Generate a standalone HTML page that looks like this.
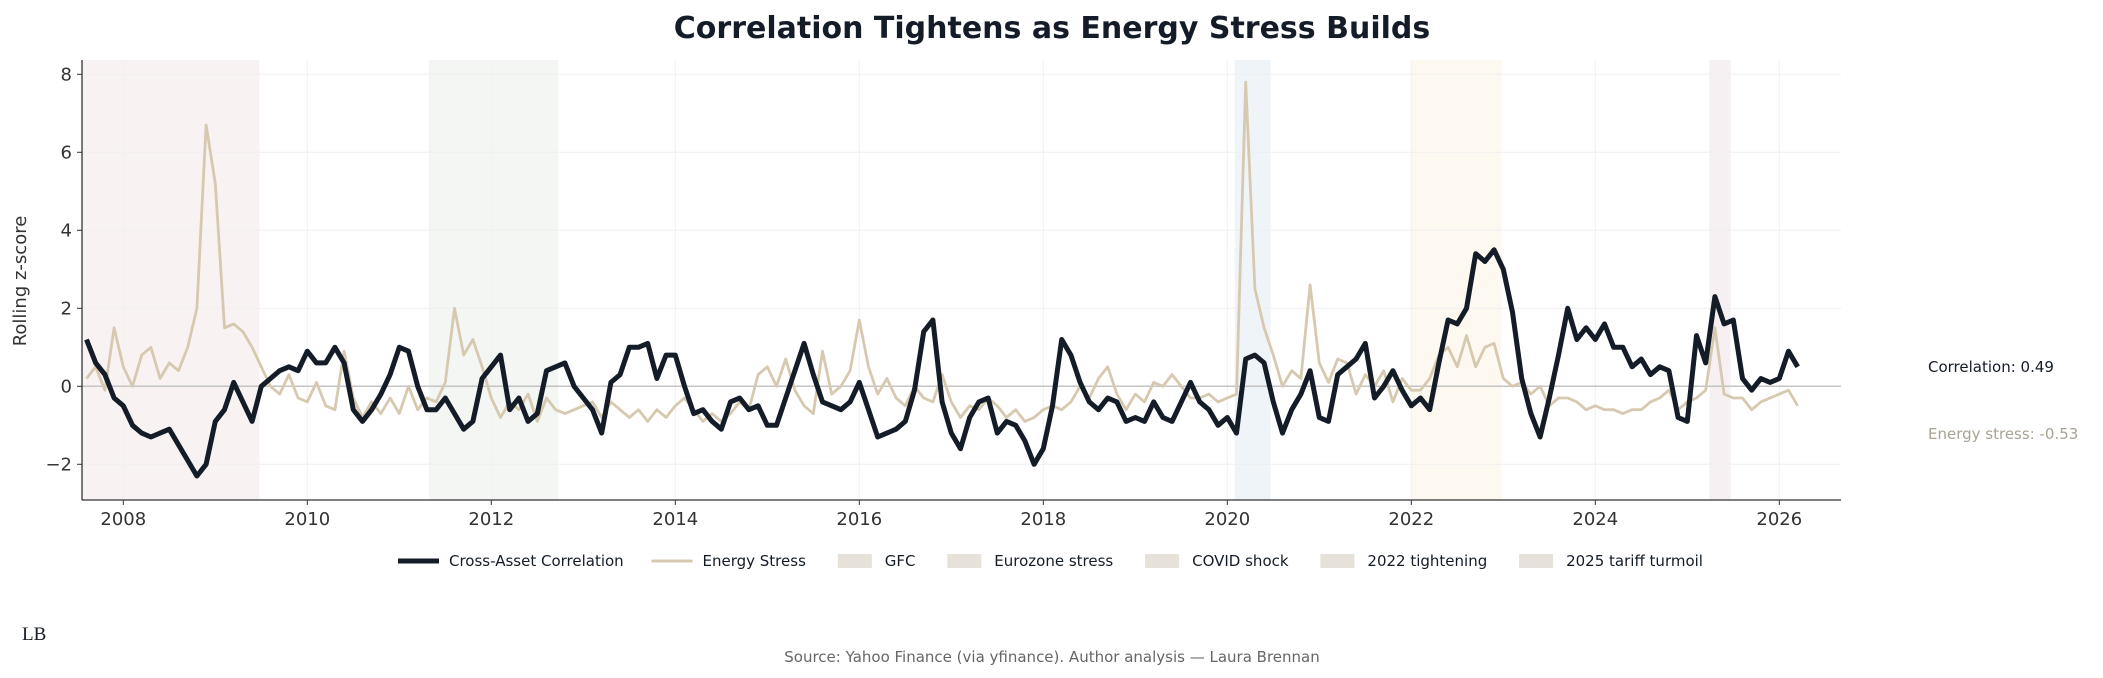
<!DOCTYPE html>
<html><head><meta charset="utf-8"><style>
html,body{margin:0;padding:0;background:#fff;}
svg{display:block;font-family:"DejaVu Sans","Liberation Sans",sans-serif;}
</style></head><body>
<svg id="chart" width="2103" height="678" viewBox="0 0 2103 678">
<text x="1052" y="38" text-anchor="middle" font-size="30" font-weight="bold" fill="#141c28">Correlation Tightens as Energy Stress Builds</text>
<g id="bands"></g><g id="grid"></g><g id="series"></g><g id="axes"></g>
<text transform="translate(26,281) rotate(-90)" text-anchor="middle" font-size="18" fill="#333">Rolling z-score</text>
<text x="1928" y="372" font-size="15" fill="#141c28">Correlation: 0.49</text>
<text x="1928" y="439" font-size="15" fill="#aaa393">Energy stress: -0.53</text>
<g id="legend" font-size="15" fill="#141c28"></g>
<text x="22" y="640" font-family="Liberation Serif,serif" font-size="19" fill="#141c28">LB</text>
<text x="1052" y="662" text-anchor="middle" font-size="15" fill="#666">Source: Yahoo Finance (via yfinance). Author analysis — Laura Brennan</text>
</svg>
<script>
const startYear = 2007.6;
const stepYear = 0.1;
const correlation = [1.2,0.6,0.3,-0.3,-0.5,-1.0,-1.2,-1.3,-1.2,-1.1,-1.5,-1.9,-2.3,-2.0,-0.9,-0.6,0.1,-0.4,-0.9,0.0,0.2,0.4,0.5,0.4,0.9,0.6,0.6,1.0,0.6,-0.6,-0.9,-0.6,-0.2,0.3,1.0,0.9,0.0,-0.6,-0.6,-0.3,-0.7,-1.1,-0.9,0.2,0.5,0.8,-0.6,-0.3,-0.9,-0.7,0.4,0.5,0.6,0.0,-0.3,-0.6,-1.2,0.1,0.3,1.0,1.0,1.1,0.2,0.8,0.8,0.0,-0.7,-0.6,-0.9,-1.1,-0.4,-0.3,-0.6,-0.5,-1.0,-1.0,-0.3,0.4,1.1,0.3,-0.4,-0.5,-0.6,-0.4,0.1,-0.6,-1.3,-1.2,-1.1,-0.9,-0.1,1.4,1.7,-0.4,-1.2,-1.6,-0.8,-0.4,-0.3,-1.2,-0.9,-1.0,-1.4,-2.0,-1.6,-0.5,1.2,0.8,0.1,-0.4,-0.6,-0.3,-0.4,-0.9,-0.8,-0.9,-0.4,-0.8,-0.9,-0.4,0.1,-0.4,-0.6,-1.0,-0.8,-1.2,0.7,0.8,0.6,-0.4,-1.2,-0.6,-0.2,0.4,-0.8,-0.9,0.3,0.5,0.7,1.1,-0.3,0.0,0.4,-0.1,-0.5,-0.3,-0.6,0.6,1.7,1.6,2.0,3.4,3.2,3.5,3.0,1.9,0.2,-0.7,-1.3,-0.3,0.8,2.0,1.2,1.5,1.2,1.6,1.0,1.0,0.5,0.7,0.3,0.5,0.4,-0.8,-0.9,1.3,0.6,2.3,1.6,1.7,0.2,-0.1,0.2,0.1,0.2,0.9,0.5];
const energy = [0.2,0.5,-0.1,1.5,0.5,0.0,0.8,1.0,0.2,0.6,0.4,1.0,2.0,6.7,5.2,1.5,1.6,1.4,1.0,0.5,0.0,-0.2,0.3,-0.3,-0.4,0.1,-0.5,-0.6,0.9,-0.3,-0.8,-0.4,-0.7,-0.3,-0.7,0.0,-0.6,-0.3,-0.4,0.1,2.0,0.8,1.2,0.5,-0.3,-0.8,-0.4,-0.6,-0.2,-0.9,-0.3,-0.6,-0.7,-0.6,-0.5,-0.4,-0.8,-0.4,-0.6,-0.8,-0.6,-0.9,-0.6,-0.8,-0.5,-0.3,-0.6,-0.9,-0.7,-0.9,-0.7,-0.4,-0.6,0.3,0.5,0.0,0.7,-0.1,-0.5,-0.7,0.9,-0.2,0.0,0.4,1.7,0.5,-0.2,0.2,-0.3,-0.5,0.0,-0.3,-0.4,0.3,-0.4,-0.8,-0.5,-0.6,-0.3,-0.5,-0.8,-0.6,-0.9,-0.8,-0.6,-0.5,-0.6,-0.4,0.0,-0.3,0.2,0.5,-0.2,-0.6,-0.2,-0.4,0.1,0.0,0.3,0.0,-0.3,-0.3,-0.2,-0.4,-0.3,-0.2,7.8,2.5,1.5,0.8,0.0,0.4,0.2,2.6,0.6,0.1,0.7,0.6,-0.2,0.3,0.0,0.4,-0.4,0.2,-0.1,-0.1,0.2,0.8,1.0,0.5,1.3,0.5,1.0,1.1,0.2,0.0,0.1,-0.2,0.0,-0.5,-0.3,-0.3,-0.4,-0.6,-0.5,-0.6,-0.6,-0.7,-0.6,-0.6,-0.4,-0.3,-0.1,-0.6,-0.4,-0.3,-0.1,1.5,-0.2,-0.3,-0.3,-0.6,-0.4,-0.3,-0.2,-0.1,-0.5];
const yTicks = [-2,0,2,4,6,8];
const xTicks = [2008,2010,2012,2014,2016,2018,2020,2022,2024,2026];
const bandNames = ["GFC","Eurozone stress","COVID shock","2022 tightening","2025 tariff turmoil"];
const bandStart = [2007.55,2011.32,2020.08,2022.0,2025.24];
const bandEnd = [2009.48,2012.73,2020.47,2022.98,2025.47];
const bandColors = ["#f8f2f2","#f3f6f2","#eff4f9","#fdf9f0","#f6f0f2"];

const L=82,R=1841,T=60,B=500;
const X=y=>123.3+(y-2008)*92.0;
const Y=v=>386.3-v*39.0;
const NS="http://www.w3.org/2000/svg";
function mk(tag,parent,attrs){const e=document.createElementNS(NS,tag);for(const k in attrs)e.setAttribute(k,attrs[k]);parent.appendChild(e);return e;}
const gB=document.getElementById('bands'),gG=document.getElementById('grid'),gS=document.getElementById('series'),gA=document.getElementById('axes'),gL=document.getElementById('legend');
bandNames.forEach((n,i)=>{const r=mk('rect',gB,{x:X(bandStart[i]),y:T,width:X(bandEnd[i])-X(bandStart[i]),height:B-T,fill:bandColors[i]});

});
yTicks.forEach(v=>{const l=mk('line',gG,{x1:L,x2:R,y1:Y(v),y2:Y(v),stroke:'#efefef','stroke-width':1});


const t=mk('text',gA,{x:L-10,y:Y(v)+6,'text-anchor':'end','font-size':18,fill:'#333'});t.textContent=(v<0?'\u2212'+(-v):v);


mk('line',gA,{x1:L-5,x2:L,y1:Y(v),y2:Y(v),stroke:'#333'});});
xTicks.forEach(v=>{const l=mk('line',gG,{x1:X(v),x2:X(v),y1:T,y2:B,stroke:'#f2f2f2','stroke-width':1});


const t=mk('text',gA,{x:X(v),y:B+25,'text-anchor':'middle','font-size':18,fill:'#333'});t.textContent=v;


mk('line',gA,{x1:X(v),x2:X(v),y1:B,y2:B+5,stroke:'#333'});});
const z=mk('line',gG,{x1:L,x2:R,y1:Y(0),y2:Y(0),stroke:'#c4c4c4','stroke-width':1.5});


function path(vals){return vals.map((v,i)=>(i?'L':'M')+X(startYear+i*stepYear).toFixed(1)+','+Y(v).toFixed(1)).join('');}
const pe=mk('path',gS,{d:path(energy),fill:'none',stroke:'#d7c9b0','stroke-width':2.8,'stroke-linejoin':'round'});


const pc=mk('path',gS,{d:path(correlation),fill:'none',stroke:'#141c28','stroke-width':5,'stroke-linejoin':'round'});


const ax1=mk('line',gA,{x1:L,x2:L,y1:T,y2:B,stroke:'#333','stroke-width':1.3});


const ax2=mk('line',gA,{x1:L,x2:R,y1:B,y2:B,stroke:'#333','stroke-width':1.3});


// legend, laid out sequentially
const ly=561;
const entries=[{t:'Cross-Asset Correlation',k:'line',c:'#141c28',w:5},{t:'Energy Stress',k:'line',c:'#d7c9b0',w:3}]
  .concat(bandNames.map(n=>({t:n,k:'patch'})));
const groups=[];
entries.forEach(it=>{const g=mk('g',gL,{});


if(it.k==='line')mk('line',g,{x1:0,x2:41,y1:ly,y2:ly,stroke:it.c,'stroke-width':it.w});
else mk('rect',g,{x:4,y:ly-7,width:34,height:14,fill:'#e6e1d9'});
const t=mk('text',g,{x:51,y:ly+5});t.textContent=it.t;
groups.push({g,w:51+t.getComputedTextLength()});});
const total0=groups.reduce((s,o)=>s+o.w,0);
const gap=(1305-total0)/(groups.length-1);
let cx=398;
groups.forEach(o=>{o.g.setAttribute('transform','translate('+cx.toFixed(1)+',0)');cx+=o.w+gap;});
</script>
</body></html>
